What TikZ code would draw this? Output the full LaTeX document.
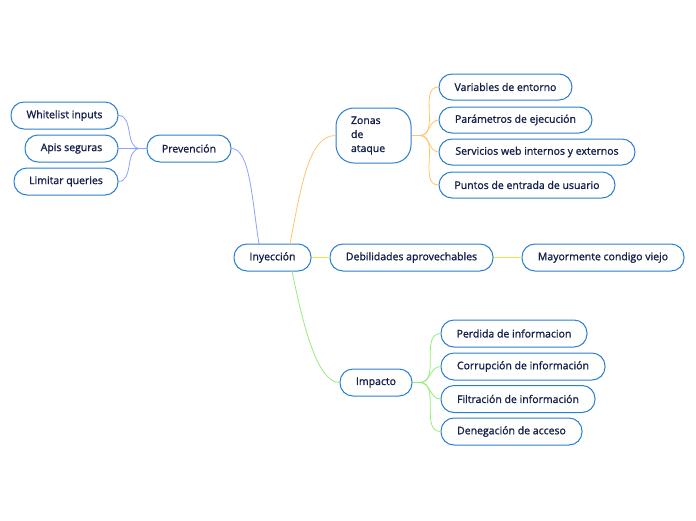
\documentclass[tikz,border=0pt]{standalone}
\usepackage{fontspec}
\setmainfont{Open Sans}[FakeBold=1.2]
\definecolor{nodeborder}{HTML}{2A7FD0}
\definecolor{nodetext}{HTML}{14204A}
\definecolor{lblue}{HTML}{8CA2FF}
\definecolor{lorange}{HTML}{FFC56A}
\definecolor{lyellow}{HTML}{DDEB50}
\definecolor{lgreen}{HTML}{96EC78}
\begin{document}
\begin{tikzpicture}[x=1pt,y=-1pt,
  topic/.style={draw=nodeborder, line width=1pt, fill=white, rounded corners=13pt,
    text=nodetext, font=\fontsize{10.5}{12}\selectfont, inner sep=0pt, minimum height=27pt},
  link/.style={line width=0.8pt}]
\useasboundingbox (0,0) rectangle (696,520);

% nodes
\node[topic, minimum width=107pt] (wl) at (64.5,115.5) {Whitelist inputs};
\node[topic, minimum width=93pt] (apis) at (71.5,148.5) {Apis seguras};
\node[topic, minimum width=104pt] (lim) at (66,181.5) {Limitar queries};
\node[topic, minimum width=84pt] (prev) at (189,148.5) {Prevención};
\node[topic, minimum width=77pt] (iny) at (272.5,257.5) {Inyección};
\node[topic, minimum width=75pt, minimum height=55pt, text width=45pt, align=left,
  rounded corners=18pt, font=\fontsize{10.5}{14}\selectfont] (zon) at (373.5,135.5) {Zonas\\de\\ataque};
\node[topic, minimum width=133pt, minimum height=26pt] (var) at (505.5,87) {Variables de entorno};
\node[topic, minimum width=153pt, minimum height=26pt] (par) at (515.5,120) {Parámetros de ejecución};
\node[topic, minimum width=196pt, minimum height=26pt] (ser) at (537,152) {Servicios web internos y externos};
\node[topic, minimum width=176pt, minimum height=26pt] (pun) at (527,185) {Puntos de entrada de usuario};
\node[topic, minimum width=163pt] (deb) at (411.5,257.5) {Debilidades aprovechables};
\node[topic, minimum width=162pt] (may) at (603,257.5) {Mayormente condigo viejo};
\node[topic, minimum width=72pt] (imp) at (376,382.5) {Impacto};
\node[topic, minimum width=146pt] (per) at (514,333.5) {Perdida de informacion};
\node[topic, minimum width=164pt] (cor) at (523,366.5) {Corrupción de información};
\node[topic, minimum width=154pt] (fil) at (518,399) {Filtración de información};
\node[topic, minimum width=141pt] (den) at (511.5,431.5) {Denegación de acceso};

% helper coordinates
\coordinate (ps) at (140,148.5);
\coordinate (zs) at (420,135.5);
\coordinate (is) at (420,382.5);
\coordinate (iytop1) at (259,244);
\coordinate (iytop2) at (290,244);
\coordinate (iybot) at (292,271);

% main branches
\draw[link, lblue] (prev.east) .. controls (250,148.5) and (252,200) .. (iytop1);
\draw[link, lorange] (iytop2) .. controls (302,180) and (310,135.5) .. (zon.west);
\draw[link, lyellow] (iny.east) -- (deb.west);
\draw[link, lyellow] (deb.east) -- (may.west);
\draw[link, lgreen] (iybot) .. controls (304,330) and (318,382.5) .. (imp.west);

% Prevención children
\draw[link, lblue, line width=1.4pt] (prev.west) -- (ps);
\foreach \c in {wl,apis,lim}
  \draw[link, lblue] (ps) to[out=180,in=0] (\c.east);
% Zonas children
\draw[link, lorange, line width=1.4pt] (zon.east) -- (zs);
\foreach \c in {var,par,ser,pun}
  \draw[link, lorange] (zs) to[out=0,in=180] (\c.west);
% Impacto children
\draw[link, lgreen, line width=1.4pt] (imp.east) -- (is);
\foreach \c in {per,cor,fil,den}
  \draw[link, lgreen] (is) to[out=0,in=180] (\c.west);
\end{tikzpicture}
\end{document}
